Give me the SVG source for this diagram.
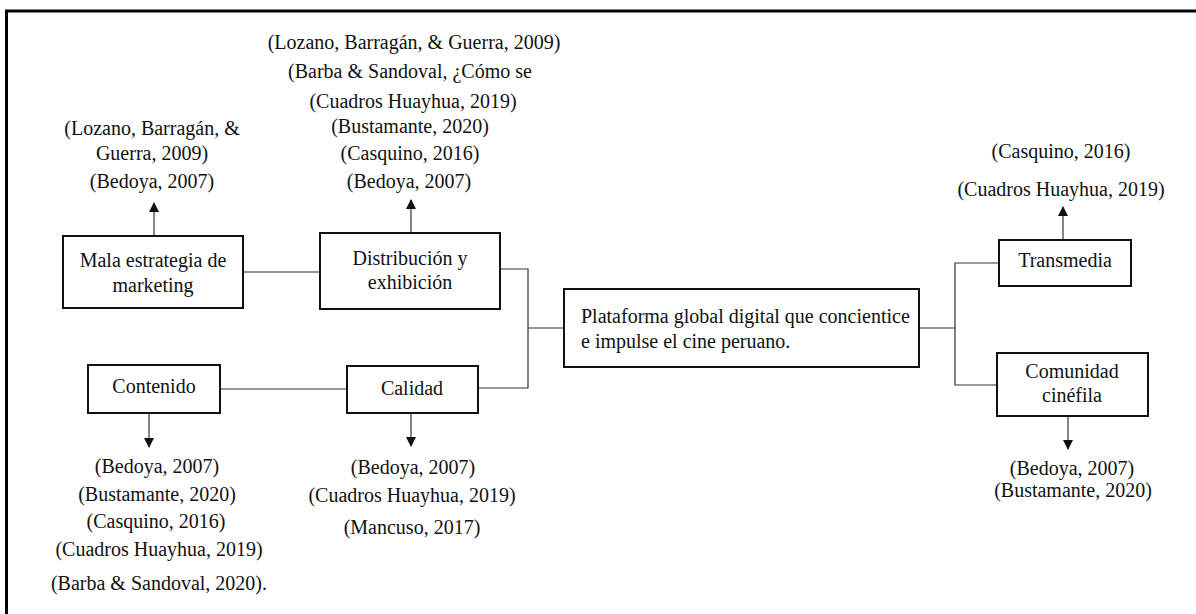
<svg xmlns="http://www.w3.org/2000/svg" width="1196" height="614" viewBox="0 0 1196 614">
<style>
text{font-family:"Liberation Serif","Times New Roman",serif;font-size:20px;fill:#111;}
.c{text-anchor:middle;}
.box{fill:#fff;stroke:#111;stroke-width:2;}
.ln{fill:none;stroke:#333;stroke-width:1.2;}
</style>
<defs>
<marker id="ah" markerWidth="10" markerHeight="10" refX="9" refY="5" orient="auto" markerUnits="userSpaceOnUse">
<path d="M0,0 L10,5 L0,10 Z" fill="#111"/>
</marker>
</defs>
<rect width="1196" height="614" fill="#fff"/>
<path d="M6.5,614 V11 H1196" fill="none" stroke="#000" stroke-width="3"/>

<g id="connectors">
<line class="ln" x1="243" y1="272" x2="320" y2="272"/>
<polyline class="ln" points="500,269 528,269 528,388 478,388"/>
<line class="ln" x1="528" y1="328" x2="564" y2="328"/>
<line class="ln" x1="220" y1="389" x2="347" y2="389"/>
<line class="ln" x1="919" y1="328" x2="955" y2="328"/>
<polyline class="ln" points="999,263 955,263 955,385 997,385"/>
<line class="ln" x1="154" y1="236" x2="154" y2="203" marker-end="url(#ah)"/>
<line class="ln" x1="411" y1="233" x2="411" y2="200" marker-end="url(#ah)"/>
<line class="ln" x1="1063" y1="240" x2="1063" y2="207" marker-end="url(#ah)"/>
<line class="ln" x1="149" y1="413" x2="149" y2="447" marker-end="url(#ah)"/>
<line class="ln" x1="411" y1="413" x2="411" y2="446" marker-end="url(#ah)"/>
<line class="ln" x1="1068" y1="416" x2="1068" y2="449" marker-end="url(#ah)"/>
</g>

<g id="mala">
<rect class="box" x="63" y="236" width="180" height="72"/>
<text class="c" x="153" y="267">Mala estrategia de</text>
<text class="c" x="153" y="292">marketing</text>
</g>
<g id="mala-refs">
<text class="c" x="152" y="135">(Lozano, Barragán, &amp;</text>
<text class="c" x="152" y="160">Guerra, 2009)</text>
<text class="c" x="152" y="188">(Bedoya, 2007)</text>
</g>

<g id="distribucion">
<rect class="box" x="320" y="233" width="180" height="76"/>
<text class="c" x="410" y="265">Distribución y</text>
<text class="c" x="410" y="289">exhibición</text>
</g>
<g id="distribucion-refs">
<text class="c" x="414" y="49">(Lozano, Barragán, &amp; Guerra, 2009)</text>
<text class="c" x="410" y="78">(Barba &amp; Sandoval, ¿Cómo se</text>
<text class="c" x="413" y="108">(Cuadros Huayhua, 2019)</text>
<text class="c" x="410" y="133">(Bustamante, 2020)</text>
<text class="c" x="410" y="160">(Casquino, 2016)</text>
<text class="c" x="409" y="188">(Bedoya, 2007)</text>
</g>

<g id="contenido">
<rect class="box" x="88" y="365" width="132" height="48"/>
<text class="c" x="154" y="393">Contenido</text>
</g>
<g id="contenido-refs">
<text class="c" x="157" y="473">(Bedoya, 2007)</text>
<text class="c" x="157" y="501">(Bustamante, 2020)</text>
<text class="c" x="156" y="528">(Casquino, 2016)</text>
<text class="c" x="159" y="556">(Cuadros Huayhua, 2019)</text>
<text class="c" x="159" y="590">(Barba &amp; Sandoval, 2020).</text>
</g>

<g id="calidad">
<rect class="box" x="347" y="366" width="131" height="47"/>
<text class="c" x="412" y="395">Calidad</text>
</g>
<g id="calidad-refs">
<text class="c" x="413" y="474">(Bedoya, 2007)</text>
<text class="c" x="412" y="502">(Cuadros Huayhua, 2019)</text>
<text class="c" x="412" y="534">(Mancuso, 2017)</text>
</g>

<g id="plataforma">
<rect class="box" x="564" y="289" width="355" height="78"/>
<text x="581" y="323">Plataforma global digital que concientice</text>
<text x="581" y="348">e impulse el cine peruano.</text>
</g>

<g id="transmedia">
<rect class="box" x="999" y="240" width="132" height="46"/>
<text class="c" x="1065" y="267">Transmedia</text>
</g>
<g id="transmedia-refs">
<text class="c" x="1061" y="158">(Casquino, 2016)</text>
<text class="c" x="1061" y="196">(Cuadros Huayhua, 2019)</text>
</g>

<g id="comunidad">
<rect class="box" x="997" y="353" width="151" height="63"/>
<text class="c" x="1072" y="378">Comunidad</text>
<text class="c" x="1072" y="402">cinéfila</text>
</g>
<g id="comunidad-refs">
<text class="c" x="1072" y="475">(Bedoya, 2007)</text>
<text class="c" x="1073" y="497">(Bustamante, 2020)</text>
</g>
</svg>
